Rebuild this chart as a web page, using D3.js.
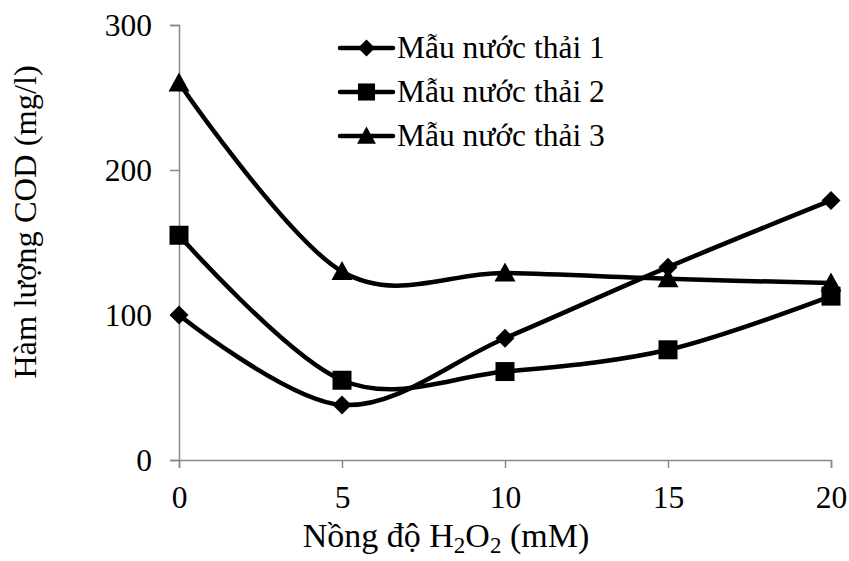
<!DOCTYPE html>
<html><head><meta charset="utf-8">
<script src="https://cdn.jsdelivr.net/npm/d3@7"></script>
<style>html,body{margin:0;padding:0;background:#fff;} text{font-family:"Liberation Serif","Times New Roman",serif;}</style>
</head><body>
<svg id="c" width="849" height="561"></svg>
<script>
const xValues = [0, 5, 10, 15, 20];
const series1 = [100, 38, 84, 133, 179];
const series2 = [155, 55, 61, 76, 113];
const series3 = [260, 130, 129, 125, 122];
const seriesNames = ["Mẫu nước thải 1", "Mẫu nước thải 2", "Mẫu nước thải 3"];
const seriesSymbols = ["diamond", "square", "triangle"];
const xTicks = [0, 5, 10, 15, 20];
const yTicks = [0, 100, 200, 300];
const yTitle = "Hàm lượng COD (mg/l)";

const svg = d3.select("#c");
const x = d3.scaleLinear().domain([0, 20]).range([179, 831]);
const y = d3.scaleLinear().domain([0, 300]).range([460, 25]);
const axisColor = "#898989";
const fs = 31.5;

// axes
const gx = svg.append("g").attr("transform", "translate(0,460)")
  .call(d3.axisBottom(x).tickValues(xTicks).tickSize(8).tickPadding(18).tickFormat(d3.format("d")));
const gy = svg.append("g").attr("transform", "translate(179,0)")
  .call(d3.axisLeft(y).tickValues(yTicks).tickSize(9).tickPadding(18).tickFormat(d3.format("d")));
[gx, gy].forEach(g => {
  g.select(".domain").attr("stroke", axisColor).attr("stroke-width", 1.5);
  g.selectAll(".tick line").attr("stroke", axisColor).attr("stroke-width", 1.5);
  g.selectAll(".tick text").attr("fill", "#000").style("font-size", fs + "px")
    .style("font-family", '"Liberation Serif","Times New Roman",serif');
});
gy.selectAll(".tick text").attr("dy", "0.33em");

// lines
const allSeries = [series1, series2, series3];
const line = d3.line().x((d, i) => x(xValues[i])).y(d => y(d)).curve(d3.curveCardinal.tension(0));
allSeries.forEach(s => {
  svg.append("path").datum(s).attr("d", line).attr("fill", "none")
    .attr("stroke", "#000").attr("stroke-width", 4.5).attr("stroke-linejoin", "round");
});

function sym(name) {
  const p = d3.path();
  if (name === "diamond") {
    const r = 9.5;
    p.moveTo(0, -r); p.lineTo(r, 0); p.lineTo(0, r); p.lineTo(-r, 0); p.closePath();
  } else if (name === "square") {
    p.rect(-9.5, -9.5, 19, 19);
  } else {
    p.moveTo(0, -10.5); p.lineTo(10.5, 8.5); p.lineTo(-10.5, 8.5); p.closePath();
  }
  return p.toString();
}

allSeries.forEach((s, k) => {
  svg.append("g").selectAll("path").data(s).join("path")
    .attr("d", sym(seriesSymbols[k]))
    .attr("transform", (d, i) => `translate(${x(xValues[i])},${y(d)})`)
    .attr("fill", "#000");
});

// legend
const legendY = [48, 92, 136];
seriesNames.forEach((name, k) => {
  const g = svg.append("g").attr("transform", `translate(0,${legendY[k]})`);
  g.append("line").attr("x1", 340).attr("x2", 393).attr("y1", 0).attr("y2", 0)
    .attr("stroke", "#000").attr("stroke-width", 4.5).attr("stroke-linecap", "round");
  g.append("path").attr("d", sym(seriesSymbols[k])).attr("transform", "translate(366.5,0)scale(0.9)").attr("fill", "#000");
  g.append("text").attr("x", 397).attr("y", 0).attr("dy", "0.33em").style("font-size", fs + "px").text(name);
});

// axis titles
const xt = svg.append("text").attr("x", 446).attr("y", 547).attr("text-anchor", "middle").style("font-size", "34px");
xt.append("tspan").text("Nồng độ H");
xt.append("tspan").attr("dy", 6).style("font-size", "23px").text("2");
xt.append("tspan").attr("dy", -6).text("O");
xt.append("tspan").attr("dy", 6).style("font-size", "23px").text("2");
xt.append("tspan").attr("dy", -6).text(" (mM)");

svg.append("text").attr("transform", "translate(36,222) rotate(-90)")
  .attr("text-anchor", "middle").style("font-size", "32.5px").text(yTitle);
</script>
</body></html>
